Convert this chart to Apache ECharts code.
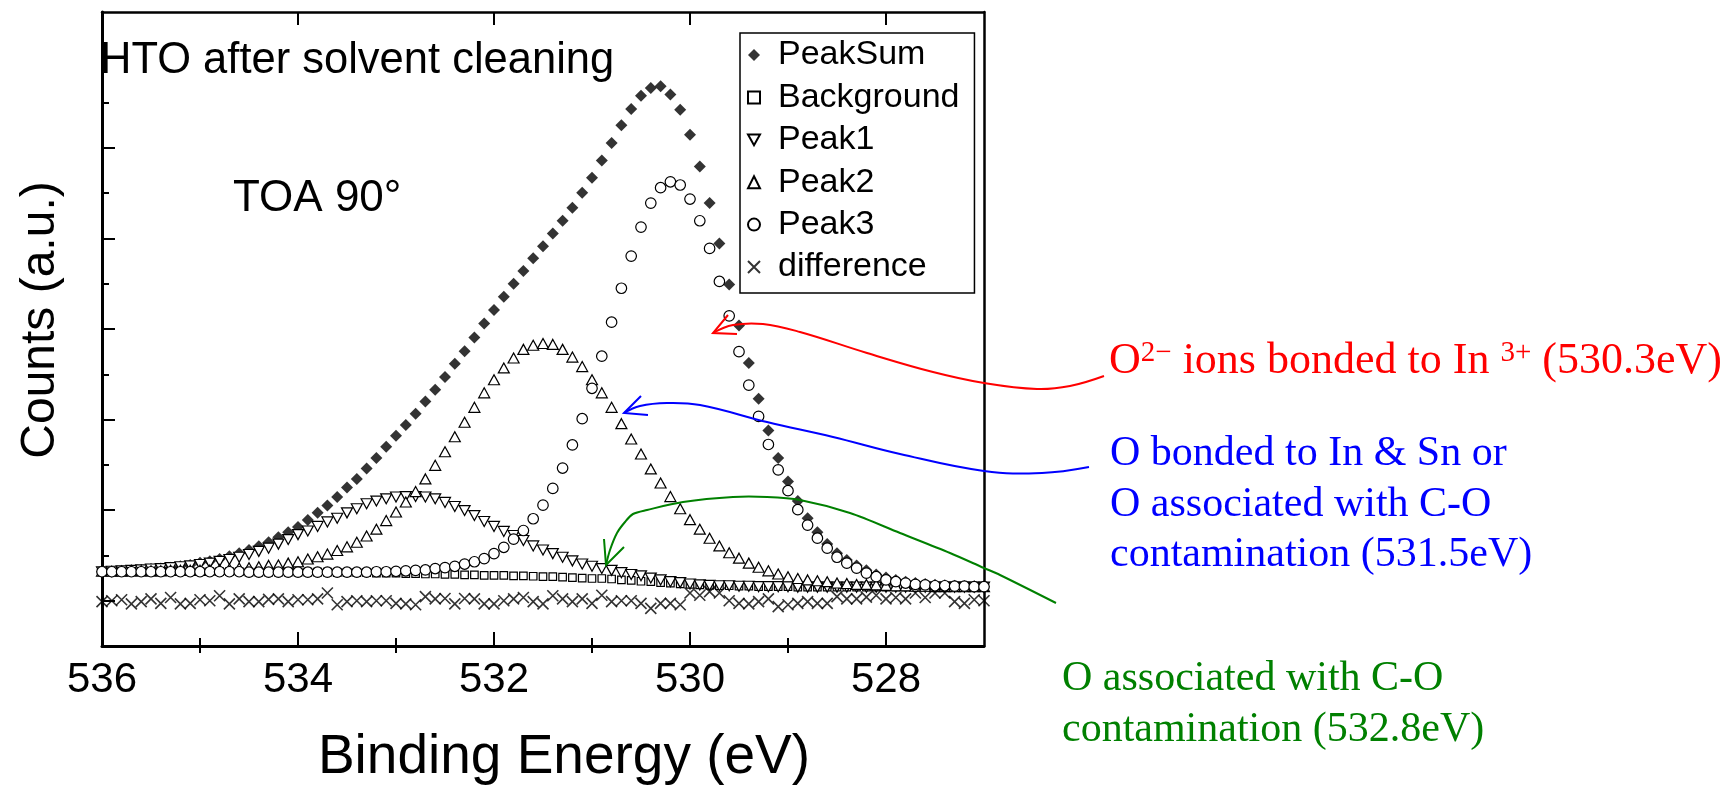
<!DOCTYPE html>
<html><head><meta charset="utf-8">
<script src="https://cdn.jsdelivr.net/npm/echarts@6/dist/echarts.min.js"></script>
<style>html,body{margin:0;padding:0;background:#fff}#c{width:1727px;height:789px}</style>
</head><body><div id="c"></div>
<script>
// Binding energy grid (eV)
const energy = [536.0,535.9,535.8,535.7,535.6,535.5,535.4,535.3,535.2,535.1,
535.0,534.9,534.8,534.7,534.6,534.5,534.4,534.3,534.2,534.1,
534.0,533.9,533.8,533.7,533.6,533.5,533.4,533.3,533.2,533.1,
533.0,532.9,532.8,532.7,532.6,532.5,532.4,532.3,532.2,532.1,
532.0,531.9,531.8,531.7,531.6,531.5,531.4,531.3,531.2,531.1,
531.0,530.9,530.8,530.7,530.6,530.5,530.4,530.3,530.2,530.1,
530.0,529.9,529.8,529.7,529.6,529.5,529.4,529.3,529.2,529.1,
529.0,528.9,528.8,528.7,528.6,528.5,528.4,528.3,528.2,528.1,
528.0,527.9,527.8,527.7,527.6,527.5,527.4,527.3,527.2,527.1,527.0];

const peakSum = [1.64,1.64,1.66,1.67,1.68,1.70,1.71,1.73,1.76,1.79,
1.84,1.87,1.92,1.98,2.05,2.12,2.20,2.29,2.40,2.51,
2.63,2.78,2.94,3.10,3.29,3.50,3.69,3.92,4.15,4.40,
4.64,4.88,5.13,5.40,5.66,5.94,6.23,6.51,6.81,7.12,
7.42,7.71,8.00,8.28,8.56,8.83,9.11,9.39,9.68,10.01,
10.34,10.72,11.11,11.50,11.86,12.15,12.32,12.36,12.18,11.84,
11.29,10.59,9.78,8.89,7.98,7.08,6.25,5.46,4.76,4.15,
3.63,3.20,2.82,2.51,2.25,2.05,1.90,1.78,1.67,1.58,
1.51,1.46,1.42,1.39,1.37,1.35,1.34,1.33,1.32,1.32,1.31];

const background = [1.64,1.64,1.64,1.64,1.64,1.64,1.64,1.64,1.64,1.64,
1.64,1.64,1.64,1.64,1.64,1.63,1.63,1.63,1.63,1.63,
1.63,1.63,1.63,1.63,1.62,1.62,1.62,1.62,1.61,1.61,
1.61,1.60,1.60,1.59,1.59,1.58,1.58,1.57,1.57,1.56,
1.56,1.56,1.55,1.55,1.54,1.53,1.53,1.52,1.51,1.50,
1.49,1.49,1.48,1.46,1.45,1.43,1.42,1.40,1.39,1.37,
1.36,1.35,1.34,1.33,1.33,1.32,1.32,1.31,1.31,1.31,
1.31,1.30,1.30,1.30,1.30,1.30,1.30,1.30,1.30,1.30,
1.30,1.30,1.30,1.30,1.30,1.30,1.30,1.30,1.30,1.30,1.30];

const peak1 = [1.64,1.65,1.66,1.67,1.68,1.70,1.71,1.73,1.75,1.77,
1.80,1.83,1.87,1.91,1.96,2.02,2.09,2.16,2.25,2.35,
2.46,2.54,2.64,2.74,2.82,2.94,3.03,3.14,3.20,3.25,
3.29,3.30,3.30,3.29,3.25,3.17,3.08,2.99,2.88,2.75,
2.64,2.53,2.44,2.33,2.21,2.12,2.04,1.96,1.88,1.81,
1.76,1.71,1.67,1.62,1.58,1.55,1.50,1.46,1.42,1.40,
1.37,1.35,1.34,1.33,1.33,1.32,1.32,1.31,1.31,1.31,
1.31,1.30,1.30,1.30,1.30,1.30,1.30,1.30,1.30,1.30,
1.30,1.30,1.30,1.30,1.30,1.30,1.30,1.30,1.30,1.30,1.30];

const peak2 = [1.65,1.65,1.65,1.66,1.66,1.66,1.66,1.67,1.67,1.67,
1.67,1.68,1.69,1.70,1.72,1.73,1.75,1.78,1.79,1.83,
1.86,1.92,1.97,2.03,2.11,2.19,2.29,2.43,2.58,2.77,
2.96,3.18,3.41,3.69,3.99,4.29,4.62,4.94,5.27,5.59,
5.88,6.14,6.36,6.55,6.64,6.68,6.66,6.55,6.38,6.17,
5.88,5.59,5.27,4.91,4.57,4.24,3.91,3.60,3.30,3.03,
2.79,2.58,2.38,2.21,2.06,1.94,1.83,1.74,1.66,1.59,
1.53,1.49,1.46,1.44,1.42,1.39,1.38,1.36,1.36,1.35,
1.34,1.33,1.33,1.32,1.32,1.31,1.31,1.31,1.31,1.31,1.31];

const peak3 = [1.64,1.64,1.64,1.64,1.64,1.64,1.64,1.64,1.64,1.64,
1.64,1.64,1.64,1.64,1.64,1.63,1.63,1.63,1.63,1.63,
1.63,1.63,1.63,1.63,1.63,1.63,1.63,1.63,1.64,1.64,
1.65,1.66,1.67,1.68,1.71,1.73,1.76,1.81,1.86,1.93,
2.04,2.18,2.36,2.55,2.81,3.11,3.48,3.93,4.44,5.02,
5.69,6.40,7.15,7.90,8.61,9.25,9.78,10.12,10.25,10.18,
9.87,9.39,8.78,8.05,7.29,6.50,5.76,5.07,4.45,3.89,
3.43,3.01,2.67,2.38,2.16,1.96,1.83,1.72,1.61,1.53,
1.46,1.42,1.39,1.36,1.35,1.33,1.33,1.32,1.32,1.31,1.31];

const difference = [0.98,1.00,1.02,0.93,0.98,1.04,0.94,1.07,0.93,0.94,
1.02,1.00,1.11,0.93,1.04,0.98,0.98,1.03,1.04,0.98,
1.02,1.02,1.04,1.17,0.91,0.98,1.00,0.98,1.00,1.00,
0.94,0.93,0.91,1.09,1.04,1.05,0.93,1.05,1.04,0.93,
0.93,1.00,1.04,1.07,0.98,0.93,1.11,1.04,0.98,1.04,
0.94,1.12,0.98,1.00,1.00,0.94,0.83,0.94,0.94,0.91,
1.17,1.12,1.20,1.17,1.00,0.94,0.93,0.98,1.04,0.87,
0.91,0.94,0.98,0.94,0.94,1.09,1.04,1.04,1.08,1.12,
1.04,1.07,1.04,1.17,1.07,1.17,1.17,0.98,0.94,1.02,1.00];

const seriesNames = ['PeakSum','Background','Peak1','Peak2','Peak3','difference'];
const xMajorTicks = [536,534,532,530,528];
const xMinorTicks = [535,533,531,529];
const yMajorTicks = [1,3,5,7,9,11,13];
const yMinorTicks = [2,4,6,8,10,12];

const SANS = '"Liberation Sans", Arial, sans-serif';
const SERIF = '"Liberation Serif", "Times New Roman", serif';

function pts(vals){ return energy.map((e,i)=>[e, vals[i]]); }

const chart = echarts.init(document.getElementById('c'), null, {renderer:'canvas'});

const xBase = {type:'value', min:527, max:536, inverse:true, splitLine:{show:false}, gridIndex:0};
const yBase = {type:'value', min:0, max:14, splitLine:{show:false}, gridIndex:0};
const tickStyle = {color:'#000', width:2};

const openStyle = {color:'#fff', borderColor:'#000', borderWidth:1.2, opacity:1};

chart.setOption({
  animation:false,
  backgroundColor:'#fff',
  grid:{left:102, top:12, width:882, height:634, containLabel:false},
  xAxis:[
    Object.assign({}, xBase, {position:'bottom',
      axisLine:{show:true, onZero:false, lineStyle:{color:'#000', width:3}},
      axisTick:{show:true, inside:true, length:14, lineStyle:tickStyle, customValues:xMajorTicks},
      axisLabel:{show:true, customValues:xMajorTicks, color:'#000', fontSize:42, fontFamily:SANS, margin:13}}),
    Object.assign({}, xBase, {position:'bottom',
      axisLine:{show:false},
      axisTick:{show:true, inside:true, length:8, lineStyle:tickStyle, customValues:xMinorTicks},
      axisLabel:{show:false}}),
    Object.assign({}, xBase, {position:'top',
      axisLine:{show:true, onZero:false, lineStyle:{color:'#000', width:2.5}},
      axisTick:{show:true, inside:true, length:13, lineStyle:tickStyle, customValues:xMajorTicks},
      axisLabel:{show:false}}),
    Object.assign({}, xBase, {position:'top',
      axisLine:{show:false},
      axisTick:{show:true, inside:true, length:7, lineStyle:tickStyle, customValues:xMinorTicks},
      axisLabel:{show:false}})
  ],
  yAxis:[
    Object.assign({}, yBase, {position:'left',
      axisLine:{show:true, onZero:false, lineStyle:{color:'#000', width:3}},
      axisTick:{show:true, inside:true, length:13, lineStyle:tickStyle, customValues:yMajorTicks},
      axisLabel:{show:false}}),
    Object.assign({}, yBase, {position:'left',
      axisLine:{show:false},
      axisTick:{show:true, inside:true, length:7, lineStyle:tickStyle, customValues:yMinorTicks},
      axisLabel:{show:false}}),
    Object.assign({}, yBase, {position:'right',
      axisLine:{show:true, onZero:false, lineStyle:{color:'#000', width:2.5}},
      axisTick:{show:false}, axisLabel:{show:false}})
  ],
  legend:{
    orient:'vertical', left:740, top:33,
    padding:[5,15,9,7],
    itemWidth:12, itemHeight:12, itemGap:8.4,
    borderColor:'#000', borderWidth:1.5,
    textStyle:{color:'#000', fontSize:34, lineHeight:34, fontFamily:SANS, padding:[0,0,0,13]},
    data:seriesNames
  },
  series:[
    {name:seriesNames[0], type:'scatter', symbol:'diamond', symbolSize:12, data:pts(peakSum),
      itemStyle:{color:'#000', borderWidth:0}, z:2},
    {name:seriesNames[1], type:'scatter', symbol:'rect', symbolSize:7.5, data:pts(background),
      itemStyle:openStyle, z:3},
    {name:seriesNames[2], type:'scatter', symbol:'path://M0,0L10,0L5,9Z', symbolSize:[11,10], data:pts(peak1),
      itemStyle:openStyle, z:4},
    {name:seriesNames[3], type:'scatter', symbol:'triangle', symbolSize:[11,10], data:pts(peak2),
      itemStyle:openStyle, z:5},
    {name:seriesNames[4], type:'scatter', symbol:'circle', symbolSize:10.5, data:pts(peak3),
      itemStyle:openStyle, z:6},
    {name:seriesNames[5], type:'scatter', symbol:'path://M0,0L10,10M10,0L0,10', symbolSize:11, data:pts(difference),
      itemStyle:{color:'#000', borderColor:'#000', borderWidth:1.6}, z:7}
  ],
  graphic:[
    {type:'text', x:100, y:61, z:10, style:{text:'HTO after solvent cleaning', font:'43.5px '+SANS, fill:'#000', align:'left', verticalAlign:'middle'}},
    {type:'text', x:233, y:199, z:10, style:{text:'TOA 90°', font:'44px '+SANS, fill:'#000', align:'left', verticalAlign:'middle'}},
    {type:'text', x:564, y:758, z:10, style:{text:'Binding Energy (eV)', font:'55px '+SANS, fill:'#000', align:'center', verticalAlign:'middle'}},
    {type:'text', x:41, y:320, rotation:Math.PI/2, z:10, style:{text:'Counts (a.u.)', font:'48px '+SANS, fill:'#000', align:'center', verticalAlign:'middle'}},
    // red annotation
    {type:'polyline', z:10, shape:{points:[[713,333],[733,325],[763,324],[800,332],[867,353],[933,372],[984,383],[1037,389],[1070,386],[1104,376]], smooth:0.4},
      style:{stroke:'#ff0000', lineWidth:2, fill:null}},
    {type:'polyline', z:10, shape:{points:[[728,315],[713,333],[737,334]]}, style:{stroke:'#ff0000', lineWidth:2, fill:null}},
    {type:'text', x:1109, y:361, z:10, style:{
      text:'{n|O}{s|2−}{n| ions bonded to In }{s|3+}{n| (530.3eV)}',
      fill:'#ff0000', align:'left', verticalAlign:'middle',
      rich:{n:{font:'44px '+SERIF, fill:'#ff0000', lineHeight:44, verticalAlign:'bottom'},
            s:{font:'29px '+SERIF, fill:'#ff0000', lineHeight:29, verticalAlign:'top'}}}},
    // blue annotation
    {type:'polyline', z:10, shape:{points:[[624,413],[640,406],[667,403],[700,405],[767,422],[833,437],[900,454],[984,471],[1042,473],[1089,467]], smooth:0.4},
      style:{stroke:'#0000ff', lineWidth:2, fill:null}},
    {type:'polyline', z:10, shape:{points:[[641,396],[624,413],[648,415]]}, style:{stroke:'#0000ff', lineWidth:2, fill:null}},
    {type:'text', x:1110, y:454, z:10, style:{text:'O bonded to In & Sn or', font:'42px '+SERIF, fill:'#0000ff', align:'left', verticalAlign:'middle'}},
    {type:'text', x:1110, y:505, z:10, style:{text:'O associated with C-O', font:'42px '+SERIF, fill:'#0000ff', align:'left', verticalAlign:'middle'}},
    {type:'text', x:1110, y:555, z:10, style:{text:'contamination (531.5eV)', font:'42px '+SERIF, fill:'#0000ff', align:'left', verticalAlign:'middle'}},
    // green annotation
    {type:'polyline', z:10, shape:{points:[[606,565],[610,550],[617,533],[625,522],[633,514],[647,510],[683,502],[733,497],[767,497],[800,500],[850,513],[900,533],[950,553],[984,568],[1000,575],[1056,603]], smooth:0.3},
      style:{stroke:'#008000', lineWidth:2, fill:null}},
    {type:'polyline', z:10, shape:{points:[[604,539],[606,565],[624,547]]}, style:{stroke:'#008000', lineWidth:2, fill:null}},
    {type:'text', x:1062, y:679, z:10, style:{text:'O associated with C-O', font:'42px '+SERIF, fill:'#008000', align:'left', verticalAlign:'middle'}},
    {type:'text', x:1062, y:730, z:10, style:{text:'contamination (532.8eV)', font:'42px '+SERIF, fill:'#008000', align:'left', verticalAlign:'middle'}}
  ]
});
</script></body></html>
